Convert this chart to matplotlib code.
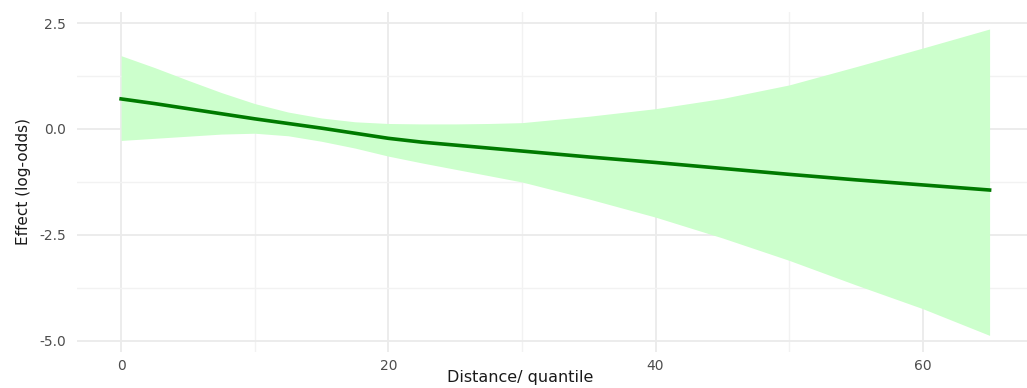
import matplotlib
matplotlib.use("Agg")
import matplotlib.pyplot as plt

# values
distance = [0, 2.5, 5, 7.5, 10, 12.5, 15, 17.5, 20, 22.5, 25, 27.5, 30, 35, 40, 45, 50, 55, 60, 65]
effect = [0.71, 0.60, 0.48, 0.36, 0.24, 0.13, 0.02, -0.10, -0.22, -0.31, -0.38, -0.45, -0.52,
          -0.66, -0.79, -0.93, -1.07, -1.20, -1.32, -1.44]
upper = [1.73, 1.45, 1.15, 0.86, 0.60, 0.40, 0.26, 0.17, 0.13, 0.12, 0.12, 0.13, 0.15,
         0.30, 0.48, 0.72, 1.04, 1.47, 1.91, 2.36]
lower = [-0.27, -0.22, -0.17, -0.12, -0.10, -0.16, -0.29, -0.45, -0.64, -0.80, -0.95, -1.10, -1.25,
         -1.65, -2.08, -2.57, -3.10, -3.68, -4.24, -4.87]

x_ticks = [0, 20, 40, 60]
y_ticks = [-5.0, -2.5, 0.0, 2.5]

fig = plt.figure(figsize=(10.27, 3.88), dpi=100)
ax = fig.add_axes([0.075, 0.093, 0.925, 0.876])

ax.fill_between(distance, lower, upper, color="#ccffcc", linewidth=0, zorder=2)
ax.plot(distance, effect, color="#007a00", linewidth=2.6, zorder=3)

ax.set_xlim(-3.3, 67.8)
ax.set_ylim(-5.26, 2.76)

ax.set_xticks(x_ticks)
ax.set_xticks([10, 30, 50], minor=True)
ax.set_yticks(y_ticks)
ax.set_yticks([-3.75, -1.25, 1.25], minor=True)
ax.set_xticklabels([str(t) for t in x_ticks])
ax.set_yticklabels([f"{t:.1f}" for t in y_ticks])

ax.grid(which="major", color="#ebebeb", linewidth=1.3, zorder=0)
ax.grid(which="minor", color="#f2f2f2", linewidth=1.0, zorder=0)
ax.set_axisbelow(True)
for s in ax.spines.values():
    s.set_visible(False)
ax.tick_params(which="both", length=0, colors="#4d4d4d", labelsize=10, pad=8)
ax.tick_params(axis="x", pad=5)

ax.set_xlabel("Distance/ quantile", fontsize=11.5, color="#1a1a1a", labelpad=0)
ax.xaxis.set_label_coords(0.466, -0.052)
ax.xaxis.label.set_va("top")
ax.set_ylabel("Effect (log-odds)", fontsize=11, color="#1a1a1a",
              family=["Liberation Sans Narrow", "DejaVu Sans"], labelpad=6)

fig.savefig("out.png", dpi=100)
